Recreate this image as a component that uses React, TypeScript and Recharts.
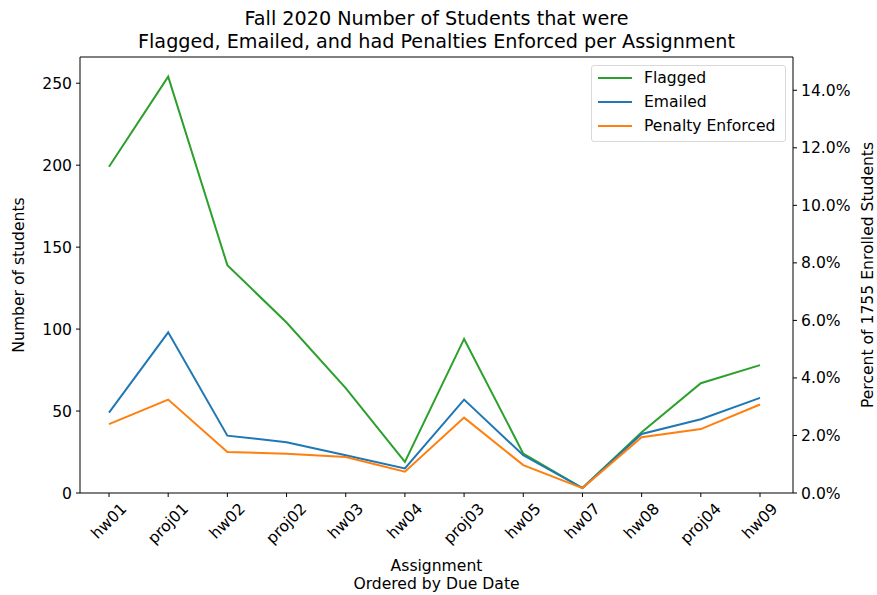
import { LineChart, Line, XAxis, YAxis, ReferenceLine } from "recharts";

const assignments = ["hw01", "proj01", "hw02", "proj02", "hw03", "hw04", "proj03", "hw05", "hw07", "hw08", "proj04", "hw09"];
const flagged = [199, 254, 139, 104, 64, 19, 94, 24, 3, 37, 67, 78];
const emailed = [49, 98, 35, 31, 23, 15, 57, 23, 3, 36, 45, 58];
const penalty = [42, 57, 25, 24, 22, 13, 46, 17, 3, 34, 39, 54];
const countTicks = [0, 50, 100, 150, 200, 250];
const pctTicks = [0, 2, 4, 6, 8, 10, 12, 14];
const enrolled = 1755;
const yMax = 266;

const data = assignments.map((a, i) => ({
  name: a,
  flagged: flagged[i],
  emailed: emailed[i],
  penalty: penalty[i],
  flaggedPct: (flagged[i] / enrolled) * 100,
}));

const FONT = "'DejaVu Sans', sans-serif";
const FS = 15.6;
const GREEN = "#2ca02c";
const BLUE = "#1f77b4";
const ORANGE = "#ff7f0e";

let ctx: CanvasRenderingContext2D | null = null;
const textWidth = (s: string) => {
  if (!ctx) ctx = document.createElement("canvas").getContext("2d");
  if (!ctx) return s.length * 9;
  ctx.font = `${FS}px ${FONT}`;
  return ctx.measureText(s).width;
};

// matplotlib-style 45deg label, centred under the tick
const RotTick = (props: any) => {
  const { x, y, payload } = props;
  const w = textWidth(payload.value);
  const h = FS * 0.75;
  const half = ((w + h) * Math.SQRT1_2) / 2;
  const cy = y + 3 + half;
  return (
    <text
      x={x}
      y={cy}
      textAnchor="middle"
      dominantBaseline="central"
      transform={`rotate(-45, ${x}, ${cy})`}
      fontFamily={FONT}
      fontSize={FS}
      fill="#000"
    >
      {payload.value}
    </text>
  );
};

const legendItems = [
  { label: "Flagged", color: GREEN },
  { label: "Emailed", color: BLUE },
  { label: "Penalty Enforced", color: ORANGE },
];

export default function App() {
  return (
    <div style={{ position: "absolute", left: 0, top: 0, width: 877, height: 595, background: "#fff", fontFamily: FONT }}>
      <LineChart width={877} height={595} data={data} margin={{ top: 57, right: 0, bottom: 12, left: 0 }}>
        <XAxis
          dataKey="name"
          height={90}
          padding={{ left: 29, right: 33 }}
          tick={<RotTick />}
          tickSize={4}
          tickLine={{ stroke: "#000" }}
          axisLine={{ stroke: "#000" }}
          interval={0}
        />
        <YAxis
          yAxisId="left"
          width={80}
          domain={[0, yMax]}
          ticks={countTicks}
          tickSize={4}
          tickMargin={4}
          tick={{ fill: "#000", fontSize: FS, fontFamily: FONT }}
          tickLine={{ stroke: "#000" }}
          axisLine={{ stroke: "#000" }}
          allowDataOverflow
        />
        <YAxis
          yAxisId="right"
          orientation="right"
          width={84}
          domain={[0, (yMax / enrolled) * 100]}
          ticks={pctTicks}
          tickSize={4}
          tickMargin={4}
          tickFormatter={(v: number) => `${v.toFixed(1)}%`}
          tick={{ fill: "#000", fontSize: FS, fontFamily: FONT }}
          tickLine={{ stroke: "#000" }}
          axisLine={{ stroke: "#000" }}
          allowDataOverflow
        />
        <ReferenceLine yAxisId="left" y={yMax} stroke="#000" ifOverflow="extendDomain" />
        <Line yAxisId="right" dataKey="flaggedPct" stroke="none" dot={false} activeDot={false} legendType="none" isAnimationActive={false} />
        <Line yAxisId="left" type="linear" dataKey="flagged" name="Flagged" stroke={GREEN} strokeWidth={2} dot={false} isAnimationActive={false} />
        <Line yAxisId="left" type="linear" dataKey="emailed" name="Emailed" stroke={BLUE} strokeWidth={2} dot={false} isAnimationActive={false} />
        <Line yAxisId="left" type="linear" dataKey="penalty" name="Penalty Enforced" stroke={ORANGE} strokeWidth={2} dot={false} isAnimationActive={false} />
      </LineChart>

      <div style={{ position: "absolute", left: 80, width: 713, top: 8, textAlign: "center", fontSize: 19.2, lineHeight: "22.5px", color: "#000", whiteSpace: "nowrap" }}>
        Fall 2020 Number of Students that were
        <br />
        Flagged, Emailed, and had Penalties Enforced per Assignment
      </div>

      <div style={{ position: "absolute", left: 80, width: 713, top: 557, textAlign: "center", fontSize: FS, lineHeight: "18px", color: "#000" }}>
        Assignment
        <br />
        Ordered by Due Date
      </div>

      <div
        style={{
          position: "absolute",
          left: 19,
          top: 275,
          transform: "translate(-50%, -50%) rotate(-90deg)",
          whiteSpace: "nowrap",
          fontSize: FS,
          color: "#000",
        }}
      >
        Number of students
      </div>

      <div
        style={{
          position: "absolute",
          left: 868,
          top: 275,
          transform: "translate(-50%, -50%) rotate(-90deg)",
          whiteSpace: "nowrap",
          fontSize: FS,
          color: "#000",
        }}
      >
        Percent of 1755 Enrolled Students
      </div>

      <div
        style={{
          position: "absolute",
          left: 591,
          top: 65,
          width: 195,
          height: 77,
          boxSizing: "border-box",
          border: "1px solid #d9d9d9",
          borderRadius: 3,
          background: "rgba(255,255,255,0.8)",
          padding: "0 0 0 6px",
        }}
      >
        {legendItems.map((it) => (
          <div key={it.label} style={{ display: "flex", alignItems: "center", height: 24, fontSize: FS, color: "#000", whiteSpace: "nowrap" }}>
            <span style={{ display: "inline-block", width: 34, height: 2, background: it.color, marginRight: 12 }} />
            {it.label}
          </div>
        ))}
      </div>
    </div>
  );
}
